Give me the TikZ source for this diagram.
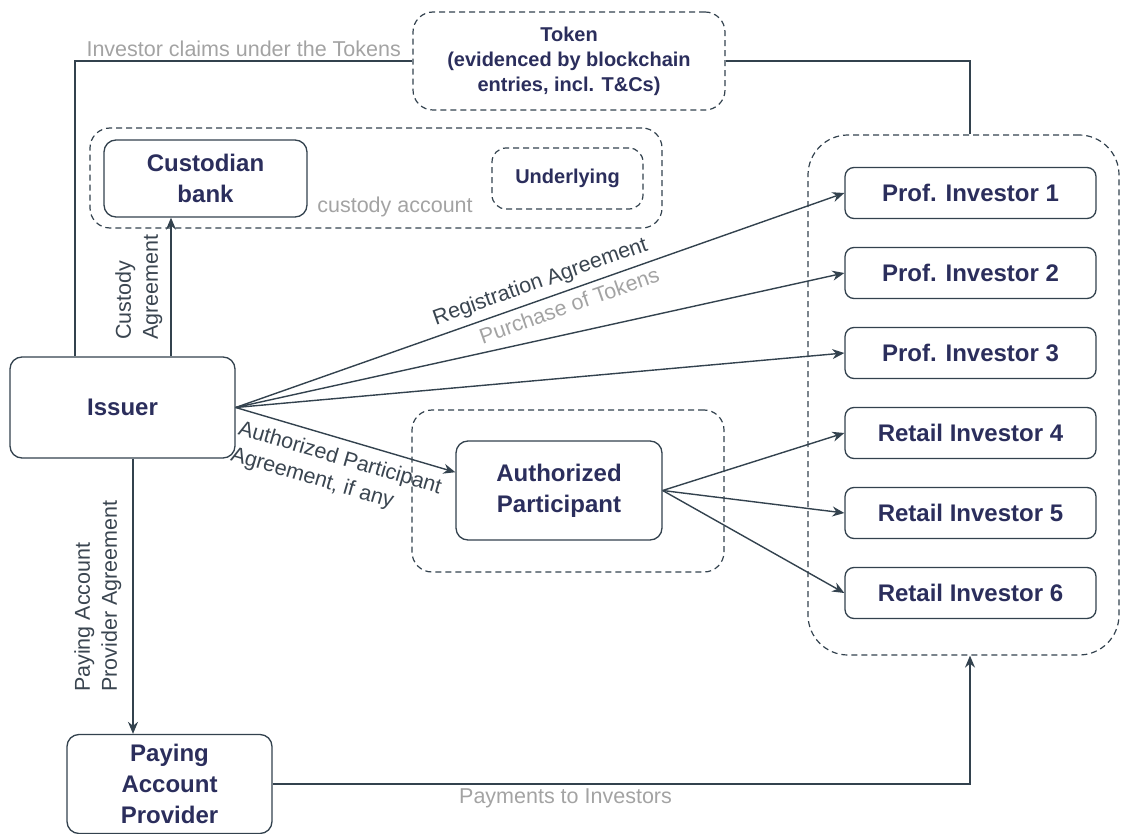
\documentclass[tikz,border=0pt]{standalone}
\usepackage{fontspec}
\setmainfont{Liberation Sans}
\usetikzlibrary{positioning,calc,arrows.meta}
\definecolor{boxtext}{HTML}{2B2E5C}
\definecolor{edgeline}{HTML}{33424E}
\definecolor{darklabel}{HTML}{3A4550}
\definecolor{lightlabel}{HTML}{A3A3A3}

\begin{document}
\begin{tikzpicture}[x=1pt, y=-1pt,
  party/.style={draw=edgeline, line width=1.3pt, rounded corners=12pt, fill=white,
    text=boxtext, font=\fontsize{24}{31}\selectfont\bfseries, align=center, inner sep=0pt},
  invbox/.style={party, minimum width=251pt, minimum height=51pt, rounded corners=9pt},
  grp/.style={draw=edgeline, line width=1.2pt, dash pattern=on 6pt off 4pt, rounded corners=20pt,
    inner sep=0pt},
  lbl/.style={text=darklabel, font=\fontsize{21.5}{27}\selectfont, align=left, inner sep=4pt},
  greylbl/.style={lbl, text=lightlabel},
  link/.style={draw=edgeline, line width=1.4pt},
  arr/.style={link, -{Stealth[length=12pt,width=10pt]}}]

 \useasboundingbox (0,0) rectangle (1121,834);

 % dashed containers
 \node[grp, minimum width=572pt, minimum height=100pt] (custacc) at (376,178) {};
 \node[grp, minimum width=312pt, minimum height=162pt] (apgrp) at (568,491) {};
 \node[grp, minimum width=311pt, minimum height=520pt, rounded corners=40pt] (invgrp) at (963.5,395) {};

 % token
 \node[grp, minimum width=312pt, minimum height=98pt, text=boxtext, align=center,
   font=\fontsize{20}{25}\selectfont\bfseries] (token) at (569,61)
   {Token\\(evidenced by blockchain\\entries, incl. T\&Cs)};

 % parties
 \node[party, minimum width=203pt, minimum height=77pt] (custodian) at (205.5,178.5) {Custodian\\bank};
 \node[grp, minimum width=151pt, minimum height=61pt, rounded corners=14pt, text=boxtext,
   font=\fontsize{20}{25}\selectfont\bfseries] (underlying) at (567.5,178.5) {Underlying};
 \node[greylbl, inner sep=0pt] (custlbl) at (395,207) {custody account};
 \node[party, minimum width=225pt, minimum height=101pt] (issuer) at (122.5,407.5) {Issuer};
 \node[party, minimum width=206pt, minimum height=99pt] (ap) at (559,490.5) {Authorized\\Participant};
 \node[party, minimum width=205pt, minimum height=99pt] (payer) at (169.5,784) {Paying\\Account\\Provider};

 % investors
 \foreach \nm/\txt [count=\i] in {prof1/Prof. Investor 1, prof2/Prof. Investor 2, prof3/Prof. Investor 3,
   retail4/Retail Investor 4, retail5/Retail Investor 5, retail6/Retail Investor 6}
   \node[invbox] (\nm) at (970.5,{113+80*\i}) {\txt};

 % token claims
 \draw[link] ($(issuer.north)+(-47.5,0)$) |- (token.west)
   node[greylbl, pos=0.75, above] (claimlbl) {Investor claims under the Tokens};
 \draw[link] (token.east) -| ($(invgrp.north)+(6.5,0)$);

 % custody
 \coordinate (custfoot) at ($(issuer.north)+(48.5,0)$);
 \draw[arr] (custfoot) -- (custfoot |- custodian.south)
   node[lbl, pos=0.5, rotate=90, anchor=south, inner sep=8pt] (custagr) {Custody\\Agreement};

 % issuer to investors
 \draw[arr] (issuer.east) -- (prof1.west)
   node[lbl, pos=0.51, sloped, above=2pt] (reglbl) {Registration Agreement}
   node[greylbl, pos=0.54, sloped, below=2pt] (buylbl) {Purchase of Tokens};
 \draw[arr] (issuer.east) -- (prof2.west);
 \draw[arr] (issuer.east) -- (prof3.west);
 \draw[arr] (issuer.east) -- (ap.170)
   node[lbl, pos=0.5, sloped, below=7pt, inner sep=2pt] (aplbl) {Authorized Participant\\Agreement, if any};

 % authorized participant to retail
 \foreach \nm in {retail4,retail5,retail6}
   \draw[arr] (ap.east) -- (\nm.west);

 % paying account
 \coordinate (payfoot) at ($(issuer.south)+(10.5,0)$);
 \draw[arr] (payfoot) -- (payfoot |- payer.north)
   node[lbl, pos=0.5, rotate=90, anchor=south, inner sep=11pt] (payagr) {Paying Account\\Provider Agreement};
 \draw[arr] (payer.east) -| ($(invgrp.south)+(6.5,0)$)
   node[greylbl, pos=0.21, below] (paylbl) {Payments to Investors};
\end{tikzpicture}
\end{document}
